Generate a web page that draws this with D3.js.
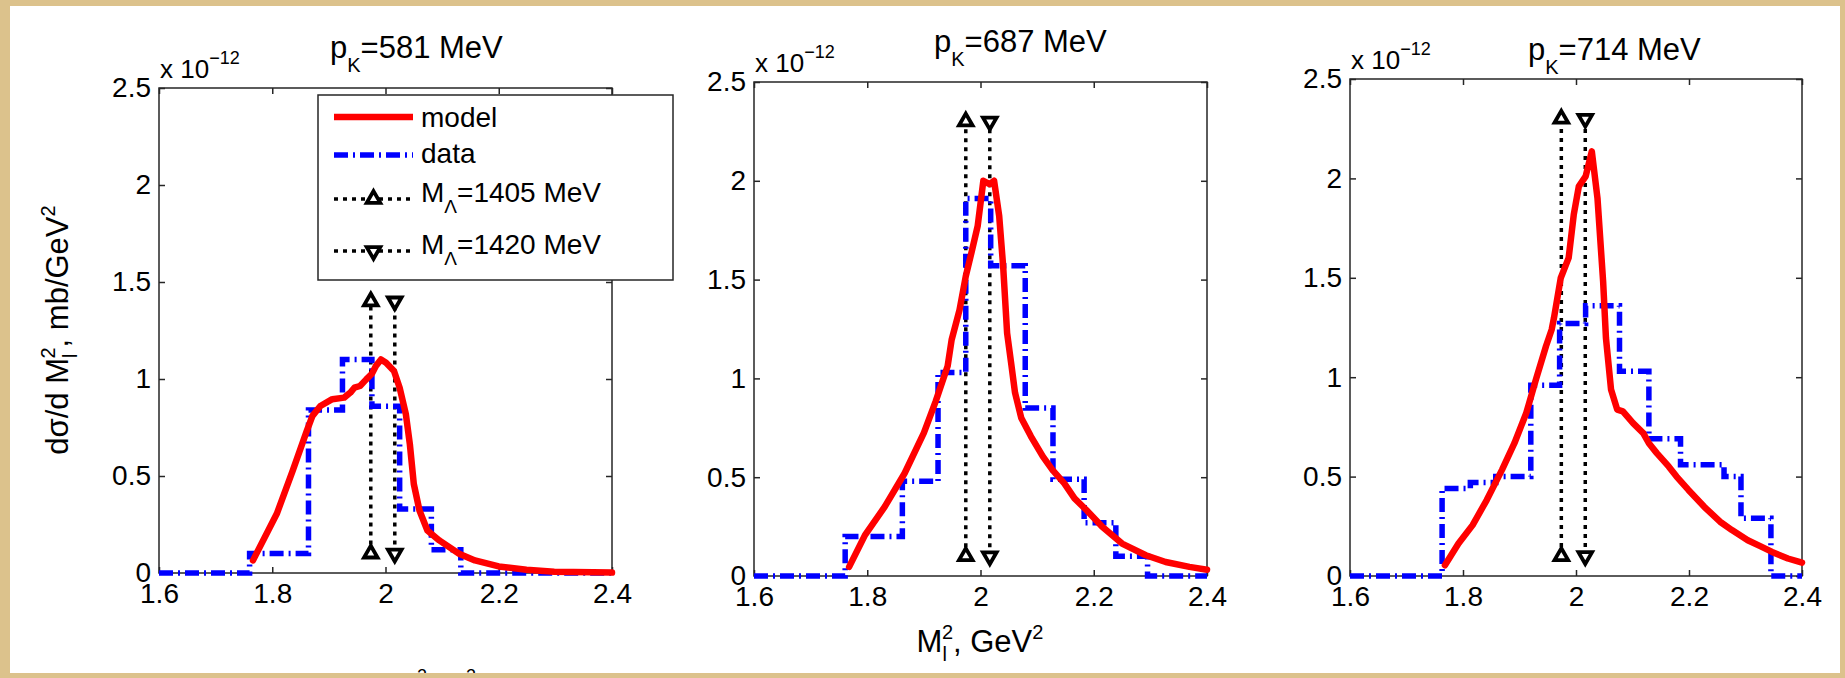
<!DOCTYPE html>
<html>
<head>
<meta charset="utf-8">
<script src="https://cdn.jsdelivr.net/npm/d3@7"></script>
<style>
  body { margin: 0; background: #fff; }
  text { font-family: "Liberation Sans", Arial, sans-serif; fill: #000; }
</style>
</head>
<body>
<svg id="chart" width="1845" height="678"></svg>
<script>
// values: x = M_l^2 (GeV^2), y in units of 1e-12 mb/GeV^2
const momenta = [581, 687, 714];
const xTicks = [1.6, 1.8, 2, 2.2, 2.4];
const yTicks = [0, 0.5, 1, 1.5, 2, 2.5];
const lambdaMasses = [1405, 1420];
const markerTops = [1.4, 2.3, 2.3];
const markerBottom = 0.1;

const model581 = [[1.766,0.065],[1.808,0.305],[1.836,0.527],[1.861,0.733],[1.871,0.81],[1.885,0.861],
  [1.906,0.896],[1.927,0.904],[1.938,0.93],[1.945,0.955],[1.955,0.964],[1.966,0.998],[1.976,1.027],
  [1.983,1.067],[1.992,1.101],[2.001,1.084],[2.015,1.041],[2.025,0.955],[2.036,0.818],[2.043,0.664],
  [2.05,0.459],[2.06,0.322],[2.074,0.219],[2.095,0.168],[2.13,0.099],[2.158,0.065],[2.2,0.034],
  [2.249,0.017],[2.298,0.007],[2.4,0.002]];
const data581Edges = [1.6, 1.76, 1.864, 1.924, 1.976, 2.025, 2.081, 2.133, 2.4];
const data581Values = [0, 0.1, 0.84, 1.1, 0.86, 0.33, 0.12, 0];

const model687 = [[1.768,0.046],[1.796,0.207],[1.831,0.351],[1.866,0.52],[1.9,0.724],[1.921,0.885],
  [1.942,1.063],[1.949,1.195],[1.963,1.347],[1.974,1.517],[1.984,1.636],[1.995,1.771],[2.005,2.0],
  [2.016,1.983],[2.024,2.0],[2.033,1.822],[2.04,1.568],[2.047,1.229],[2.054,1.08],[2.061,0.927],
  [2.072,0.8],[2.089,0.707],[2.11,0.605],[2.127,0.537],[2.148,0.469],[2.166,0.393],[2.187,0.334],
  [2.215,0.249],[2.25,0.164],[2.292,0.105],[2.327,0.071],[2.369,0.046],[2.4,0.032]];
const data687Edges = [1.6, 1.761, 1.862, 1.925, 1.974, 2.018, 2.079, 2.128, 2.183, 2.239, 2.295, 2.4];
const data687Values = [0, 0.2, 0.48, 1.03, 1.91, 1.57, 0.85, 0.49, 0.27, 0.1, 0];

const model714 = [[1.768,0.054],[1.792,0.163],[1.817,0.256],[1.842,0.382],[1.869,0.534],[1.891,0.668],
  [1.912,0.82],[1.929,0.988],[1.947,1.157],[1.957,1.24],[1.961,1.298],[1.973,1.499],[1.987,1.6],
  [1.996,1.817],[2.005,1.96],[2.017,2.01],[2.028,2.136],[2.038,1.901],[2.048,1.482],[2.053,1.198],
  [2.055,1.14],[2.062,0.938],[2.073,0.837],[2.083,0.828],[2.101,0.769],[2.119,0.719],[2.129,0.668],
  [2.143,0.618],[2.164,0.551],[2.178,0.5],[2.199,0.433],[2.227,0.348],[2.255,0.273],[2.276,0.231],
  [2.304,0.18],[2.326,0.15],[2.347,0.121],[2.375,0.088],[2.4,0.067]];
const data714Edges = [1.6, 1.763, 1.813, 1.858, 1.92, 1.971, 2.017, 2.077, 2.129, 2.185, 2.262, 2.292, 2.345, 2.4];
const data714Values = [0, 0.44, 0.47, 0.5, 0.96, 1.27, 1.36, 1.03, 0.69, 0.56, 0.5, 0.29, 0];

const models = [model581, model687, model714];
const dataEdges = [data581Edges, data687Edges, data714Edges];
const dataValues = [data581Values, data687Values, data714Values];

// pixel boxes of the three axes
const boxes = [
  { left: 159, right: 612, top: 88, bottom: 573, titleX: 330, titleY: 58 },
  { left: 754, right: 1207, top: 82, bottom: 576, titleX: 934, titleY: 52 },
  { left: 1350, right: 1802, top: 79, bottom: 576, titleX: 1528, titleY: 60 }
];

const RED = "#ff0000", BLUE = "#0000ff", AXIS = "#262626";
const BLUE_DASH = "14,5,2,5", DOTS = "4,5";

const svg = d3.select("#chart");

// frame
svg.append("rect").attr("width", 1845).attr("height", 678).attr("fill", "#dcc28c");
svg.append("rect").attr("x", 10).attr("y", 6).attr("width", 1830).attr("height", 667).attr("fill", "#fff");

const fmt = d => String(+d.toFixed(1));
const symUp = d3.symbol(d3.symbolTriangle, 80);

function marker(g, x, y, up) {
  g.append("path")
    .attr("d", symUp())
    .attr("transform", `translate(${x},${y})` + (up ? "" : " rotate(180)"))
    .attr("fill", "#fff").attr("stroke", "#000").attr("stroke-width", 3.8)
    .attr("stroke-linejoin", "miter");
}

boxes.forEach((b, i) => {
  const x = d3.scaleLinear().domain([1.6, 2.4]).range([b.left, b.right]);
  const y = d3.scaleLinear().domain([0, 2.5]).range([b.bottom, b.top]);
  const g = svg.append("g");

  g.append("rect")
    .attr("x", b.left).attr("y", b.top)
    .attr("width", b.right - b.left).attr("height", b.bottom - b.top)
    .attr("fill", "#fff").attr("stroke", AXIS).attr("stroke-width", 1.5);

  const axes = [
    [d3.axisBottom(x).tickValues(xTicks).tickFormat(fmt), `translate(0,${b.bottom})`],
    [d3.axisTop(x).tickValues(xTicks).tickFormat(""), `translate(0,${b.top})`],
    [d3.axisLeft(y).tickValues(yTicks).tickFormat(fmt), `translate(${b.left},0)`],
    [d3.axisRight(y).tickValues(yTicks).tickFormat(""), `translate(${b.right},0)`]
  ];
  axes.forEach(([ax, tr], k) => {
    const a = g.append("g").attr("transform", tr)
      .call(ax.tickSizeInner(-6).tickSizeOuter(0).tickPadding(k === 2 ? 8 : 10));
    a.select(".domain").remove();
    a.attr("font-family", null).attr("font-size", 28).attr("color", AXIS);
    a.selectAll(".tick line").attr("stroke-width", 1.5);
    a.selectAll("text").attr("fill", "#000");
  });

  // exponent label
  const ex = g.append("text").attr("x", b.left + 1).attr("y", b.top - 10).attr("font-size", 26);
  ex.append("tspan").text("x 10");
  ex.append("tspan").attr("dy", -14).attr("font-size", 18).text("\u221212");

  // title
  const t = g.append("text").attr("x", b.titleX).attr("y", b.titleY).attr("font-size", 31);
  t.append("tspan").text("p");
  t.append("tspan").attr("dy", 14).attr("font-size", 20).text("K");
  t.append("tspan").attr("dy", -14).text("=" + momenta[i] + " MeV");

  // M_Lambda marker lines
  lambdaMasses.forEach(m => {
    const xm = x((m / 1000) ** 2);
    g.append("line")
      .attr("x1", xm).attr("x2", xm)
      .attr("y1", y(markerBottom)).attr("y2", y(markerTops[i]))
      .attr("stroke", "#000").attr("stroke-width", 3.5).attr("stroke-dasharray", DOTS);
  });

  // data histogram
  const edges = dataEdges[i], vals = dataValues[i];
  const steps = vals.map((v, k) => [edges[k], v]).concat([[edges[edges.length - 1], vals[vals.length - 1]]]);
  g.append("path")
    .attr("d", d3.line().x(d => x(d[0])).y(d => y(d[1])).curve(d3.curveStepAfter)(steps))
    .attr("fill", "none").attr("stroke", BLUE).attr("stroke-width", 5.5)
    .attr("stroke-dasharray", BLUE_DASH);

  // model curve
  g.append("path")
    .attr("d", d3.line().x(d => x(d[0])).y(d => y(d[1]))(models[i]))
    .attr("fill", "none").attr("stroke", RED).attr("stroke-width", 6.5)
    .attr("stroke-linejoin", "round").attr("stroke-linecap", "round");

  lambdaMasses.forEach((m, j) => {
    const xm = x((m / 1000) ** 2);
    marker(g, xm, y(markerBottom), j === 0);
    marker(g, xm, y(markerTops[i]), j === 0);
  });
});

// y label
const yl = svg.append("text").attr("transform", "translate(68,330) rotate(-90)")
  .attr("text-anchor", "middle").attr("font-size", 31);
yl.append("tspan").text("d\u03c3/d M");
yl.append("tspan").attr("dy", 9).attr("font-size", 20).text("l");
yl.append("tspan").attr("dx", -5).attr("dy", -22).attr("font-size", 20).text("2");
yl.append("tspan").attr("dy", 13).text(", mb/GeV");
yl.append("tspan").attr("dy", -13).attr("font-size", 20).text("2");

// x label under the middle panel
const xl = svg.append("text").attr("x", 980).attr("y", 652)
  .attr("text-anchor", "middle").attr("font-size", 31);
xl.append("tspan").text("M");
xl.append("tspan").attr("dy", 9).attr("font-size", 20).text("l");
xl.append("tspan").attr("dx", -5).attr("dy", -22).attr("font-size", 20).text("2");
xl.append("tspan").attr("dy", 13).text(", GeV");
xl.append("tspan").attr("dy", -13).attr("font-size", 20).text("2");

// legend
const lg = svg.append("g");
lg.append("rect").attr("x", 318).attr("y", 95).attr("width", 355).attr("height", 185)
  .attr("fill", "#fff").attr("stroke", AXIS).attr("stroke-width", 1.5);
const lx0 = 334, lx1 = 413, ltx = 421;
lg.append("line").attr("x1", lx0).attr("x2", lx1).attr("y1", 117).attr("y2", 117)
  .attr("stroke", RED).attr("stroke-width", 6.5);
lg.append("text").attr("x", ltx).attr("y", 127).attr("font-size", 28).text("model");
lg.append("line").attr("x1", lx0).attr("x2", lx1).attr("y1", 155).attr("y2", 155)
  .attr("stroke", BLUE).attr("stroke-width", 5.5).attr("stroke-dasharray", BLUE_DASH);
lg.append("text").attr("x", ltx).attr("y", 163).attr("font-size", 28).text("data");
[[199, 202], [251, 254]].forEach(([ly, ty], j) => {
  lg.append("line").attr("x1", lx0).attr("x2", lx1).attr("y1", ly).attr("y2", ly)
    .attr("stroke", "#000").attr("stroke-width", 3.5).attr("stroke-dasharray", DOTS);
  marker(lg, (lx0 + lx1) / 2, ly, j === 0);
  const tx = lg.append("text").attr("x", ltx).attr("y", ty).attr("font-size", 28);
  tx.append("tspan").text("M");
  tx.append("tspan").attr("dy", 11).attr("font-size", 19).text("\u039b");
  tx.append("tspan").attr("dy", -11).text("=" + lambdaMasses[j] + " MeV");
});

// bottom frame strip drawn last: only the tops of a cut-off label peek out
svg.append("text").attr("x", 417).attr("y", 682).attr("font-size", 18).text("2");
svg.append("text").attr("x", 466).attr("y", 682).attr("font-size", 18).text("2");
svg.append("rect").attr("x", 0).attr("y", 673).attr("width", 1845).attr("height", 5).attr("fill", "#dcc28c");
</script>
</body>
</html>
